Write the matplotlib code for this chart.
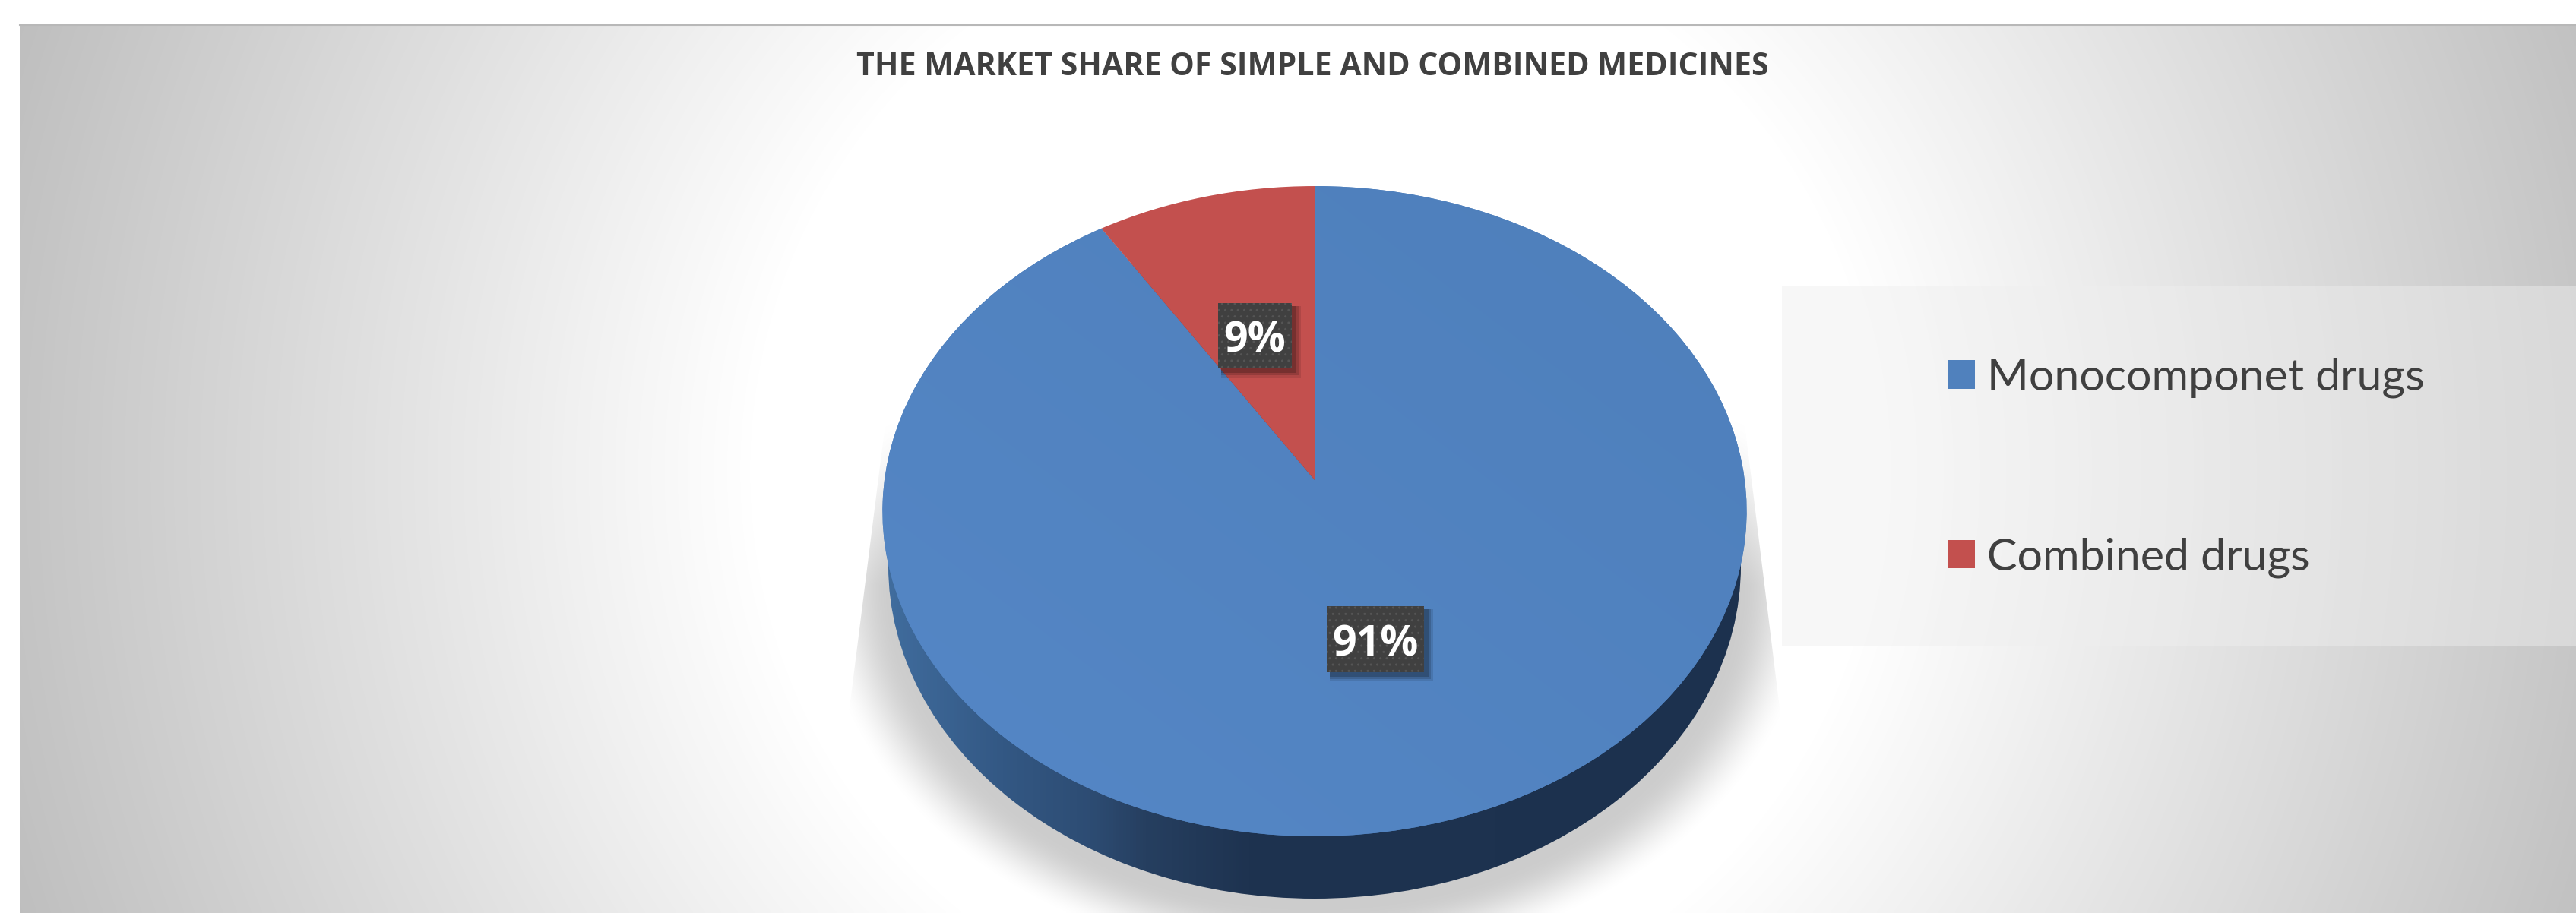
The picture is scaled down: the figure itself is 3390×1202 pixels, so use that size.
import numpy as np
import matplotlib
matplotlib.use("Agg")
import matplotlib.pyplot as plt
from matplotlib.patches import Rectangle, Ellipse, Polygon, Patch
from matplotlib.transforms import Transform
from matplotlib.colors import LinearSegmentedColormap

TITLE = "THE MARKET SHARE OF SIMPLE AND COMBINED MEDICINES"
DRUG_TYPES = ["Monocomponet drugs", "Combined drugs"]
SHARES = [91, 9]
COLORS = ["#5081bd", "#c3504e"]

W, H = 3391, 1202


class TiltTransform(Transform):
    """Maps the unit circle of the pie onto the tilted 3D disc, in pixels."""
    input_dims = 2
    output_dims = 2

    def transform_non_affine(self, values):
        u, v = values[:, 0], values[:, 1]
        d = 1 + 0.0958 * v
        return np.column_stack((1730 + 566 * u / d, (632 - 363.5 * v) / d))


def gradient(ax, cmap, data, clip=None, zorder=1):
    im = ax.imshow(data, extent=(0, W, H, 0), cmap=cmap, vmin=0, vmax=1,
                   aspect="auto", zorder=zorder, interpolation="bilinear")
    if clip is not None:
        im.set_clip_path(clip)
    return im


fig = plt.figure(figsize=(W / 100, H / 100), dpi=100, facecolor="white")
ax = fig.add_axes([0, 0, 1, 1])

wedges, _ = ax.pie(SHARES, colors=COLORS, startangle=90, counterclock=False)
ax.set_aspect("auto")
ax.set_xlim(0, W)
ax.set_ylim(H, 0)
ax.axis("off")

yy, xx = np.mgrid[0:H:4, 0:W:4]

# background
r = np.hypot(xx - 1730, yy - 620)
bg = np.clip((r - 740) / 1110, 0, 1)
bg_cmap = LinearSegmentedColormap.from_list("bg", ["#ffffff", "#bcbcbc"])
area = Rectangle((26, 32), W - 26, H - 32, fc="none", ec="none")
ax.add_patch(area)
gradient(ax, bg_cmap, bg, clip=area, zorder=0)
ax.plot([26, W], [33, 33], color="#b8b8b8", lw=1.5, zorder=1)

# shadow under the pie, cut off by a trapezoid like the original
d = np.hypot((xx - 1730) / 640, (yy - 770) / 490)
shadow = np.clip((1.03 - d) / 0.16, 0, 1)
shadow = shadow * shadow * (3 - 2 * shadow) * np.clip((yy - 540) / 230, 0, 1)
shadow_cmap = LinearSegmentedColormap.from_list("shadow", [(0, 0, 0, 0), (0, 0, 0, 0.2)])
trap = Polygon([(1165, 558), (2295, 550), (2340, 916), (2346, 960), (2346, 1202),
                (1114, 1202), (1114, 960), (1120, 916)], fc="none", ec="none")
ax.add_patch(trap)
gradient(ax, shadow_cmap, shadow, clip=trap, zorder=2)

# legend panel
ax.add_patch(Rectangle((2345, 376), W - 2345, 475, fc="#efefef", ec="none", alpha=0.45, zorder=3))

# side wall
side = Ellipse((1730, 745), 1122, 876, fc="none", ec="none")
ax.add_patch(side)
side_cmap = LinearSegmentedColormap.from_list(
    "side", [(0, "#406c9d"), (0.13, "#335884"), (0.235, "#2d4c73"), (0.3, "#263f60"),
             (0.42, "#1e3350"), (1, "#1c314e")])
gradient(ax, side_cmap, np.clip((xx - 1170) / 1120, 0, 1), clip=side, zorder=4)

# top of the pie
tilt = TiltTransform()
for wedge in wedges:
    wedge.set_transform(tilt + ax.transData)
    wedge.set_zorder(6)
    wedge.set_edgecolor("none")
wedges[1].set_zorder(8)

top_cmap = LinearSegmentedColormap.from_list("top", ["#4e7fbb", "#5587c6"])
top_shade = np.clip(((2299 - xx) / 1138 + (yy - 245) / 856) / 2, 0, 1)
gradient(ax, top_cmap, top_shade, clip=wedges[0], zorder=7)

# data labels
label_boxes = [(1746, 798, 128, 87), (1603, 399, 97, 86)]
for share, (bx, by, bw, bh) in zip(SHARES, label_boxes):
    for off, a in [(12, 0.10), (9, 0.15), (6, 0.2)]:
        ax.add_patch(Rectangle((bx + 4, by + 4), bw + off - 4, bh + off - 4, fc="black", ec="none",
                               alpha=a, zorder=9))
    ax.add_patch(Rectangle((bx, by), bw, bh, fc="#404040", ec="#555555", lw=0, hatch="..", zorder=10))
    ax.text(bx + bw / 2, by + 65, f"{share}%", color="white", fontsize=40,
            fontweight="bold", family="Open Sans", ha="center", va="baseline", zorder=11)

ax.text(1727, 99, TITLE, color="#404040", fontsize=29.6, fontweight="bold",
        family="Open Sans", ha="center", va="baseline", zorder=11)

handles = [Patch(fc=c, ec="none") for c in COLORS]
ax.legend(handles, DRUG_TYPES, loc="upper left", bbox_to_anchor=(2563 / W, 1 - 471 / H),
          bbox_transform=fig.transFigure, frameon=False, borderpad=0, borderaxespad=0,
          labelcolor="#404040", prop={"family": "Lato", "size": 42.6},
          handlelength=0.6, handleheight=0.6, handletextpad=0.28, labelspacing=3.09)

fig.savefig("out.png", dpi=100, facecolor="white")
